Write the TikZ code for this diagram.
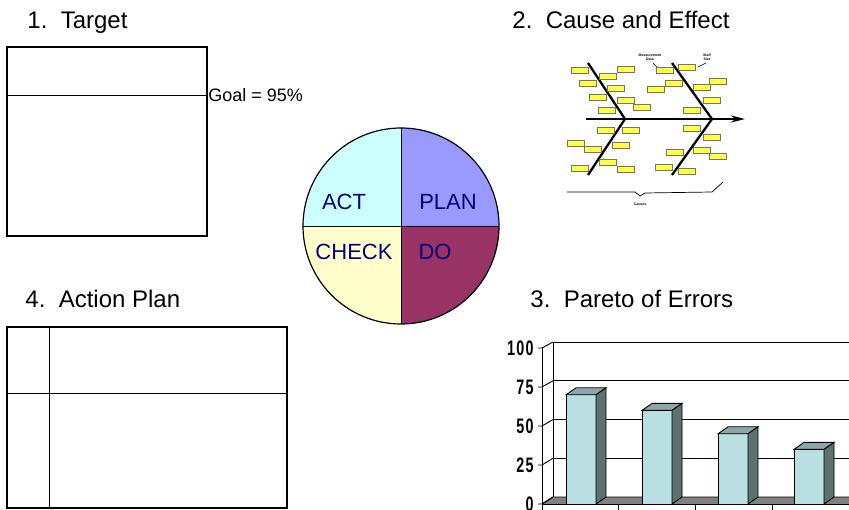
\documentclass[tikz,border=0pt]{standalone}
\usepackage{fontspec}
\setmainfont{Liberation Sans}
\newfontfamily\axisfont[FakeStretch=0.68, LetterSpace=6]{Liberation Sans Bold}
\usetikzlibrary{positioning,arrows.meta}

\definecolor{actcol}{HTML}{CCFFFF}
\definecolor{plancol}{HTML}{9999FF}
\definecolor{checkcol}{HTML}{FFFFCC}
\definecolor{docol}{HTML}{993366}
\definecolor{navytext}{HTML}{000080}
\definecolor{notecol}{HTML}{FFFF44}
\definecolor{barfront}{HTML}{BADFE3}
\definecolor{bartop}{HTML}{8AA6A8}
\definecolor{barside}{HTML}{5D7171}
\definecolor{floorcol}{HTML}{808080}

\begin{document}
\begin{tikzpicture}[x=1pt, y=-1pt, line width=0.9pt,
  title/.style={font=\fontsize{24}{28}\selectfont, anchor=base west, inner sep=0pt},
  frame/.style={draw, line width=2.4pt},
  pdca/.style={font=\fontsize{22}{26}\selectfont, text=navytext, inner sep=0pt},
  bone/.style={line width=2.3pt},
  note/.style={draw=black!55, fill=notecol, line width=0.6pt},
  tiny/.style={font=\fontsize{3.5}{4}\selectfont\bfseries, inner sep=0pt, align=center},
  axislbl/.style={font=\axisfont\fontsize{21}{24}\selectfont, anchor=east, inner sep=0pt}]

  \useasboundingbox (0,0) rectangle (849,510);

  % titles
  \node[title] (ttarget) at (27,29) {1.\ \ Target};
  \node[title] (tcause) at (512,29) {2.\ \ Cause and Effect};
  \node[title] (taction) at (25,308) {4.\ \ Action Plan};
  \node[title] (tpareto) at (530,308) {3.\ \ Pareto of Errors};

  % 1. target
  \draw[frame] (7,47) rectangle (207,236);
  \coordinate (gl) at (7,95);
  \coordinate (gr) at (207,95);
  \draw (gl) -- (gr);
  \node[anchor=west, inner sep=1pt, font=\fontsize{18}{21}\selectfont] (goal) at (gr) {Goal = 95\%};

  % 4. action plan
  \draw[frame] (7,327) rectangle (287,508);
  \draw (7,393) -- (287,393);
  \draw (49,327) -- (49,508);

  % pdca wheel
  \coordinate (pc) at (401,226);
  \fill[actcol] (pc) -- ++(-98,0) arc[start angle=180, end angle=270, radius=98] -- cycle;
  \fill[plancol] (pc) -- ++(0,-98) arc[start angle=270, end angle=360, radius=98] -- cycle;
  \fill[docol] (pc) -- ++(98,0) arc[start angle=0, end angle=90, radius=98] -- cycle;
  \fill[checkcol] (pc) -- ++(0,98) arc[start angle=90, end angle=180, radius=98] -- cycle;
  \draw[line width=1.2pt] (pc) circle[radius=98];
  \draw (401,128) -- (401,324) (303,226) -- (499,226);
  \node[pdca] (act) at (344,202) {ACT};
  \node[pdca] (plan) at (448,202) {PLAN};
  \node[pdca] (check) at (354,252) {CHECK};
  \node[pdca] (do) at (435,252) {DO};

  % 2. fishbone
  \draw[line width=2.8pt, -{Stealth[length=14pt, width=7pt]}] (586,119) -- (745,119);
  \draw[bone] (588,63) -- (625,119) -- (588,175);
  \draw[bone] (672,63) -- (712,119) -- (672,175);
  \foreach \x/\y in {571/67, 599/73, 617/66, 579/80, 607/85, 589/94, 617/97, 598/107, 633/104,
                     597/127, 622/127, 567/140, 584/146, 612/142, 599/159, 571/165, 617/166,
                     656/67, 678/64, 665/80, 647/86, 693/84, 709/78, 703/97, 683/107,
                     683/125, 703/134, 666/149, 693/147, 709/153, 655/164, 678/168}
    \draw[note] (\x,\y) rectangle ++(17,6);
  \node[tiny] (cat1) at (650,57) {Measurement\\Data};
  \node[tiny] (cat2) at (707,57) {Staff\\Size};
  \draw[line width=0.6pt] (653,63) -- (657,67);
  \draw[line width=0.6pt] (698,67) -- (706,63);
  \draw[line width=0.7pt] (567,192) -- (635,192) -- (640,196) -- (645,193) -- (712,192) -- (723,182);
  \node[tiny] (causes) at (640,204) {Causes};

  % 3. pareto
  \fill[floorcol] (542,504) -- (553,497) -- (849,497) -- (849,504) -- cycle;
  \draw (542,504) -- (553,497) -- (849,497);
  \draw (542,504) -- (849,504);
  \draw (553,497) -- (553,342) -- (849,342);
  \foreach \v in {25,50,75}
    \draw (553,{497-1.55*\v}) -- (849,{497-1.55*\v});
  \foreach \v in {0,25,...,100} {
    \draw (538,{504-1.56*\v}) -- (542,{504-1.56*\v}) -- (553,{497-1.55*\v});
    \node[axislbl] (l\v) at (534,{504-1.56*\v}) {\v};
  }
  \draw (542,348) -- (542,510);
  \foreach \x in {618,695,772}
    \draw (\x,504) -- (\x,510);
  \foreach \x/\v in {566/70, 642/60, 718/45, 794/35} {
    \pgfmathsetmacro\t{504-1.56*\v}
    \draw[fill=barfront] (\x,504) rectangle ({\x+30},\t);
    \draw[fill=bartop] (\x,\t) -- ({\x+30},\t) -- ({\x+40},{\t-7}) -- ({\x+10},{\t-7}) -- cycle;
    \draw[fill=barside] ({\x+30},\t) -- ({\x+40},{\t-7}) -- ({\x+40},497) -- ({\x+30},504) -- cycle;
  }
\end{tikzpicture}
\end{document}
